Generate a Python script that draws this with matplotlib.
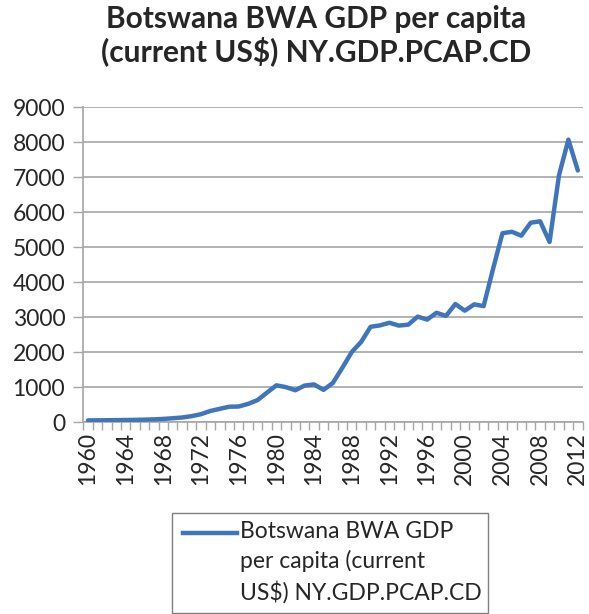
"""Botswana GDP per capita (current US$), 1960-2012, Excel-style line chart."""

import matplotlib.pyplot as plt
from matplotlib.lines import Line2D
from matplotlib.patches import Rectangle

plt.rcParams["font.family"] = ["Lato", "DejaVu Sans"]

years = list(range(1960, 2013))
gdp_per_capita = [
    60, 62, 64, 67, 71, 75, 81, 89, 102, 122,
    142, 181, 237, 330, 390, 450, 456, 531, 639, 852,
    1060, 1010, 920, 1053, 1086, 930, 1130, 1560, 2010, 2300,
    2730, 2770, 2845, 2765, 2790, 3020, 2935, 3130, 3040, 3380,
    3190, 3370, 3320, 4380, 5400, 5440, 5330, 5700, 5740, 5150,
    7050, 8070, 7190,
]
label_years = years[::4]
series_name = "Botswana BWA GDP\nper capita (current\nUS$) NY.GDP.PCAP.CD"
title = "Botswana BWA GDP per capita\n(current US$) NY.GDP.PCAP.CD"

LINE_COLOR = "#3F76BB"
GRID_COLOR = "#A6A6A6"
TEXT_COLOR = "#262626"

fig = plt.figure(figsize=(5.89, 6.14), dpi=100)
ax = fig.add_axes([0.1414, 0.3119, 0.8476, 0.5138])

ax.plot(years, gdp_per_capita, color=LINE_COLOR, linewidth=3.2,
        solid_capstyle="round", solid_joinstyle="round", zorder=3)

ax.set_xlim(years[0] - 0.5, years[-1] + 0.5)
ax.set_ylim(0, 9000)
ax.set_yticks(range(0, 9001, 1000))
ax.yaxis.grid(True, color=GRID_COLOR, linewidth=1.2)
ax.set_axisbelow(True)

# category boundaries carry the tick marks, labels sit at category centres
ax.set_xticks(label_years)
ax.set_xticklabels([str(y) for y in label_years], rotation=90)
ax.set_xticks([y - 0.5 for y in years] + [years[-1] + 0.5], minor=True)
ax.tick_params(axis="x", which="major", length=0, pad=7,
               labelsize=16.5, labelcolor=TEXT_COLOR)
ax.tick_params(axis="x", which="minor", length=6, width=1.0,
               color=GRID_COLOR, direction="out")
ax.tick_params(axis="y", length=7, width=1.0, color=GRID_COLOR,
               pad=6, labelsize=16.5, labelcolor=TEXT_COLOR)

for side in ("top", "right"):
    ax.spines[side].set_visible(False)
for side in ("left", "bottom"):
    ax.spines[side].set_color(GRID_COLOR)
    ax.spines[side].set_linewidth(1.2)

fig.text(0.537, 0.942, title, ha="center", va="center", fontsize=21.5,
         fontweight="bold", color=TEXT_COLOR, linespacing=1.15)

# legend box under the axis, handle level with the first text line
W, H = fig.get_size_inches() * fig.dpi
box = Rectangle((172 / W, 1 - 613 / H), (488 - 172) / W, (613 - 513) / H,
                transform=fig.transFigure, fill=False,
                edgecolor="#7F7F7F", linewidth=1.0)
fig.add_artist(box)
fig.add_artist(Line2D([183 / W, 237 / W], [1 - 533 / H, 1 - 533 / H],
                      transform=fig.transFigure, color=LINE_COLOR,
                      linewidth=3.2))
fig.text(240 / W, 1 - 521 / H, series_name, ha="left", va="top",
         fontsize=16.5, color=TEXT_COLOR, linespacing=1.45)

fig.savefig("out.png", dpi=100)
